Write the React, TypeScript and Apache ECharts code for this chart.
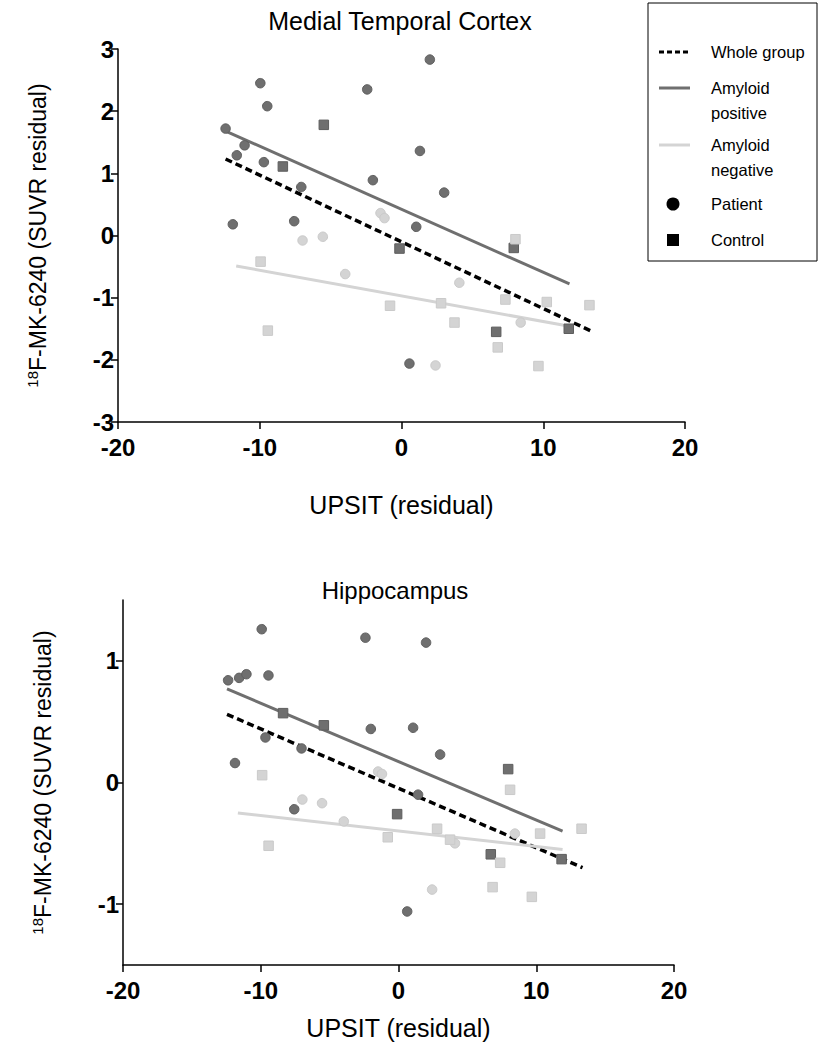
import React, { useEffect, useRef } from "react";
import * as echarts from "echarts";

const FONT = '"Liberation Sans", Arial, Helvetica, sans-serif';
const DARK = "#6f6f6f";
const LIGHT = "#d4d4d4";

// ---------- Medial Temporal Cortex (top panel) ----------
const mtcPosPatients: [number, number][] = [
  [-12.41, 1.72], [-11.62, 1.29], [-11.07, 1.45], [-11.9, 0.18],
  [-9.96, 2.45], [-9.47, 2.08], [-9.71, 1.18], [-7.07, 0.78],
  [-7.57, 0.23], [-2.42, 2.35], [-2.02, 0.89], [2.0, 2.83],
  [1.3, 1.36], [3.01, 0.69], [1.04, 0.14], [0.56, -2.06],
];
const mtcPosControls: [number, number][] = [
  [-8.37, 1.11], [-5.48, 1.78], [-0.14, -0.21], [7.92, -0.2],
  [6.68, -1.55], [11.8, -1.5],
];
const mtcNegPatients: [number, number][] = [
  [-6.98, -0.08], [-5.55, -0.02], [-1.48, 0.36], [-1.2, 0.28],
  [-3.97, -0.62], [4.08, -0.76], [8.41, -1.4], [2.4, -2.09],
];
const mtcNegControls: [number, number][] = [
  [-9.94, -0.42], [-9.43, -1.53], [-0.81, -1.13], [2.79, -1.09],
  [3.74, -1.4], [7.33, -1.03], [6.79, -1.8], [8.04, -0.06],
  [10.25, -1.07], [13.26, -1.12], [9.66, -2.1],
];
const mtcWholeFit: [number, number][] = [[-12.41, 1.23], [13.31, -1.53]];
const mtcPosFit: [number, number][] = [[-12.41, 1.68], [11.85, -0.78]];
const mtcNegFit: [number, number][] = [[-11.66, -0.49], [11.85, -1.46]];

// ---------- Hippocampus (bottom panel) ----------
const hipPosPatients: [number, number][] = [
  [-12.37, 0.84], [-11.57, 0.86], [-11.04, 0.89], [-11.87, 0.16],
  [-9.93, 1.26], [-9.44, 0.88], [-9.66, 0.37], [-7.04, 0.28],
  [-7.57, -0.22], [-2.4, 1.19], [-2.01, 0.44], [2.0, 1.15],
  [1.06, 0.45], [3.02, 0.23], [1.42, -0.1], [0.63, -1.06],
];
const hipPosControls: [number, number][] = [
  [-8.38, 0.57], [-5.42, 0.47], [-0.1, -0.26], [7.96, 0.11],
  [6.7, -0.59], [11.84, -0.63],
];
const hipNegPatients: [number, number][] = [
  [-6.98, -0.14], [-5.55, -0.17], [-1.48, 0.09], [-1.2, 0.07],
  [-3.97, -0.32], [4.1, -0.5], [8.45, -0.42], [2.44, -0.88],
];
const hipNegControls: [number, number][] = [
  [-9.9, 0.06], [-9.43, -0.52], [-0.78, -0.45], [2.8, -0.38],
  [3.74, -0.47], [7.38, -0.66], [6.83, -0.86], [8.1, -0.06],
  [10.28, -0.42], [13.29, -0.38], [9.68, -0.94],
];
const hipWholeFit: [number, number][] = [[-12.45, 0.56], [13.36, -0.7]];
const hipPosFit: [number, number][] = [[-12.45, 0.77], [11.91, -0.4]];
const hipNegFit: [number, number][] = [[-11.66, -0.25], [11.91, -0.55]];

// ---------- axis ticks / labels ----------
const xTicks = { min: -20, max: 20, interval: 10 };
const mtcYTicks = { min: -3, max: 3, interval: 1 };
const hipYRange = { min: -1.5, max: 1.5 };
const hipYTickValues = [-1, 0, 1];
const panelTitles = ["Medial Temporal Cortex", "Hippocampus"];
const xAxisTitle = "UPSIT (residual)";
const yAxisTitle = "{sup|18}F-MK-6240 (SUVR residual)";
const legendItems = ["Whole group", "Amyloid\npositive", "Amyloid\nnegative", "Patient", "Control"];

const axisLineStyle = { color: "#000", width: 1.5 };

function xAxisFor(gridIndex: number, nameGap: number) {
  return {
    gridIndex,
    type: "value",
    min: xTicks.min,
    max: xTicks.max,
    interval: xTicks.interval,
    axisLine: { show: true, onZero: false, lineStyle: axisLineStyle },
    axisTick: { show: true, length: 7, lineStyle: axisLineStyle },
    axisLabel: { fontSize: 24, fontWeight: "bold", color: "#000", margin: 13, fontFamily: FONT },
    splitLine: { show: false },
    name: xAxisTitle,
    nameLocation: "middle",
    nameGap,
    nameTextStyle: { fontSize: 25, color: "#000", fontFamily: FONT },
  };
}

function yAxisBase(gridIndex: number) {
  return {
    gridIndex,
    type: "value",
    axisLine: { show: true, onZero: false, lineStyle: axisLineStyle },
    splitLine: { show: false },
    name: yAxisTitle,
    nameLocation: "middle",
    nameGap: 68,
    nameTextStyle: {
      fontSize: 23,
      color: "#000",
      fontFamily: FONT,
      rich: {
        sup: { fontSize: 15, color: "#000", fontFamily: FONT, verticalAlign: "top", padding: [0, 0, 10, 0] },
      },
    },
  };
}

function scatter(name: string, data: [number, number][], idx: number, symbol: string, color: string, border: string) {
  return {
    name,
    type: "scatter",
    xAxisIndex: idx,
    yAxisIndex: idx,
    data,
    symbol,
    symbolSize: 9.5,
    z: 5,
    itemStyle: { color, borderColor: border, borderWidth: 1, opacity: 1 },
  };
}

function fitLine(name: string, data: [number, number][], idx: number, color: string, dashed: boolean) {
  return {
    name,
    type: "line",
    xAxisIndex: idx,
    yAxisIndex: idx,
    data,
    symbol: "none",
    z: 3,
    lineStyle: { color, width: dashed ? 3.5 : 3, type: dashed ? [7, 4] : "solid" },
  };
}

function legendGraphic() {
  const els: any[] = [
    { type: "rect", shape: { x: 648, y: 3, width: 169, height: 258 }, style: { fill: "#fff", stroke: "#000", lineWidth: 1 } },
    { type: "line", shape: { x1: 659, y1: 52, x2: 690, y2: 52 }, style: { stroke: "#000", lineWidth: 3, lineDash: [5, 3] } },
    { type: "line", shape: { x1: 659, y1: 88, x2: 690, y2: 88 }, style: { stroke: DARK, lineWidth: 3 } },
    { type: "line", shape: { x1: 659, y1: 145, x2: 690, y2: 145 }, style: { stroke: LIGHT, lineWidth: 3 } },
    { type: "circle", shape: { cx: 673, cy: 204, r: 6.5 }, style: { fill: "#000" } },
    { type: "rect", shape: { x: 667, y: 234, width: 12, height: 12 }, style: { fill: "#000" } },
  ];
  const ys = [52, 100, 157, 204, 240];
  legendItems.forEach((t, i) => {
    els.push({
      type: "text",
      x: 711,
      y: ys[i],
      style: {
        text: t,
        fill: "#000",
        font: `16.5px ${FONT}`,
        lineHeight: 25,
        align: "left",
        verticalAlign: "middle",
        textAlign: "left",
        textVerticalAlign: "middle",
      },
    });
  });
  return els;
}

export default function App() {
  const ref = useRef<HTMLDivElement>(null);
  useEffect(() => {
    if (!ref.current) return;
    const chart = echarts.init(ref.current, null, { renderer: "svg" });
    const option: any = {
      animation: false,
      backgroundColor: "#fff",
      grid: [
        { left: 118, top: 49, width: 567, height: 373 },
        { left: 123, top: 600, width: 551, height: 365 },
      ],
      xAxis: [xAxisFor(0, 70), xAxisFor(1, 50)],
      yAxis: [
        {
          ...yAxisBase(0),
          min: mtcYTicks.min,
          max: mtcYTicks.max,
          interval: mtcYTicks.interval,
          axisTick: { show: true, length: 7, lineStyle: axisLineStyle },
          axisLabel: { fontSize: 24, fontWeight: "bold", color: "#000", margin: 4, fontFamily: FONT },
        },
        {
          ...yAxisBase(1),
          min: hipYRange.min,
          max: hipYRange.max,
          axisTick: { show: true, length: 7, lineStyle: axisLineStyle, customValues: hipYTickValues },
          axisLabel: { fontSize: 24, fontWeight: "bold", color: "#000", margin: 4, fontFamily: FONT, customValues: hipYTickValues },
        },
      ],
      series: [
        fitLine("Whole group", mtcWholeFit, 0, "#000", true),
        fitLine("Amyloid positive", mtcPosFit, 0, DARK, false),
        fitLine("Amyloid negative", mtcNegFit, 0, LIGHT, false),
        scatter("Amyloid+ patient", mtcPosPatients, 0, "circle", DARK, "#5e5e5e"),
        scatter("Amyloid+ control", mtcPosControls, 0, "rect", DARK, "#5e5e5e"),
        scatter("Amyloid- patient", mtcNegPatients, 0, "circle", LIGHT, "#cacaca"),
        scatter("Amyloid- control", mtcNegControls, 0, "rect", LIGHT, "#cacaca"),
        fitLine("Whole group", hipWholeFit, 1, "#000", true),
        fitLine("Amyloid positive", hipPosFit, 1, DARK, false),
        fitLine("Amyloid negative", hipNegFit, 1, LIGHT, false),
        scatter("Amyloid+ patient", hipPosPatients, 1, "circle", DARK, "#5e5e5e"),
        scatter("Amyloid+ control", hipPosControls, 1, "rect", DARK, "#5e5e5e"),
        scatter("Amyloid- patient", hipNegPatients, 1, "circle", LIGHT, "#cacaca"),
        scatter("Amyloid- control", hipNegControls, 1, "rect", LIGHT, "#cacaca"),
      ],
      graphic: [
        {
          type: "text",
          x: 400,
          y: 21,
          style: { text: panelTitles[0], fill: "#000", font: `25px ${FONT}`, align: "center", verticalAlign: "middle", textAlign: "center", textVerticalAlign: "middle" },
        },
        {
          type: "text",
          x: 395,
          y: 590,
          style: { text: panelTitles[1], fill: "#000", font: `24px ${FONT}`, align: "center", verticalAlign: "middle", textAlign: "center", textVerticalAlign: "middle" },
        },
        ...legendGraphic(),
      ],
    };
    chart.setOption(option);
    return () => chart.dispose();
  }, []);
  return <div ref={ref} style={{ position: "absolute", left: 0, top: 0, width: 821, height: 1050 }} />;
}
